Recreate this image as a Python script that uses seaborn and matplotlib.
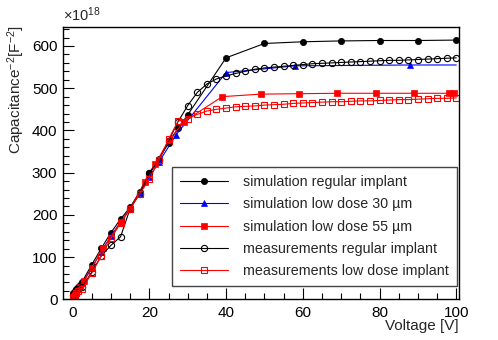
import numpy as np
import pandas as pd
import matplotlib
matplotlib.use("Agg")
import matplotlib.pyplot as plt
import seaborn as sns
from matplotlib.ticker import MultipleLocator

sns.set_style("ticks")
plt.rcParams['font.family'] = ['Liberation Sans', 'DejaVu Sans']
plt.rcParams['mathtext.fontset'] = 'custom'
plt.rcParams['mathtext.rm'] = 'Liberation Sans'
plt.rcParams['mathtext.it'] = 'Liberation Sans:italic'

# --- data ---
sim_reg_x = [0, 0.5, 1, 1.5, 2, 2.5, 5, 7.5, 10, 12.5, 15, 17.5, 20, 22.5, 25, 27.5, 30,
             40, 50, 60, 70, 80, 90, 100]
sim_reg_y = [15, 20, 25, 30, 35, 42, 82, 121, 158, 190, 218, 255, 300, 333, 370, 405, 437,
             572, 606, 610, 612, 613, 613, 614]

sim_30_x = [0, 0.5, 1, 2.5, 5, 7.5, 10, 12.5, 15, 17.5, 20, 22.5, 27, 40, 58, 88, 100]
sim_30_y = [10, 13, 18, 38, 75, 113, 150, 183, 215, 252, 290, 325, 390, 537, 553, 555, 555]

sim_55_x = [0, 0.5, 1, 2, 3, 5, 8, 12.5, 15, 19, 21.5, 25, 29, 39, 49, 59, 69, 79, 89, 98, 99.5]
sim_55_y = [5, 10, 18, 30, 43, 75, 121, 182, 215, 279, 320, 375, 421, 480, 486, 487, 488, 488,
            488, 488, 488]

meas_x = [0, 0.5, 1, 1.5, 2.5, 5, 7.5, 10, 12.5, 15, 17.5, 20, 22.5, 25, 27.5,
          30, 32.5, 35, 37.5, 40, 42.5, 45, 47.5, 50, 52.5, 55, 57.5, 60, 62.5, 65, 67.5,
          70, 72.5, 75, 77.5, 80, 82.5, 85, 87.5, 90, 92.5, 95, 97.5, 100]
meas_reg_y = [10, 15, 20, 25, 28, 65, 103, 128, 148, 215, 250, 298, 330, 375, 421,
              459, 490, 510, 522, 529, 535, 540, 545, 548, 550, 552, 554, 556, 558, 559, 560,
              561, 562, 563, 564, 565, 566, 566, 567, 568, 569, 570, 571, 572]
meas_low_y = [5, 10, 15, 20, 25, 62, 103, 145, 180, 215, 250, 284, 330, 379, 422,
              428, 438, 446, 450, 453, 456, 457, 458, 460, 461, 462, 464, 465, 466, 467, 468,
              468, 469, 470, 470, 471, 472, 473, 473, 474, 475, 476, 476, 477]

labels = ["simulation regular implant", "simulation low dose 30 \u00b5m",
          "simulation low dose 55 \u00b5m", "measurements regular implant",
          "measurements low dose implant"]

fig = plt.figure(figsize=(4.98, 3.40), dpi=100)
ax = fig.add_axes([0.1265, 0.1197, 0.7952, 0.8009])

lw = 0.8
sns.lineplot(x=sim_reg_x, y=sim_reg_y, ax=ax, color='black', linewidth=lw, marker='o',
             markersize=4.5, markerfacecolor='black', markeredgecolor='black',
             markeredgewidth=0.5, label=labels[0])
sns.lineplot(x=sim_30_x, y=sim_30_y, ax=ax, color='blue', linewidth=lw, marker='^',
             markersize=4.3, markerfacecolor='blue', markeredgecolor='blue',
             markeredgewidth=0.5, markevery=list(range(len(sim_30_x) - 1)), label=labels[1])
sns.lineplot(x=sim_55_x, y=sim_55_y, ax=ax, color='red', linewidth=lw, marker='s',
             markersize=4.3, markerfacecolor='red', markeredgecolor='red',
             markeredgewidth=0.5, label=labels[2])
sns.lineplot(x=meas_x, y=meas_reg_y, ax=ax, color='black', linewidth=lw, marker='o',
             markersize=4.5, markerfacecolor='none', markeredgecolor='black',
             markeredgewidth=0.8, label=labels[3])
sns.lineplot(x=meas_x, y=meas_low_y, ax=ax, color='red', linewidth=lw, marker='s',
             markersize=4.5, markerfacecolor='none', markeredgecolor='red',
             markeredgewidth=0.8, label=labels[4])

ax.set_xlim(-2.5, 100.7)
ax.set_ylim(0, 645)
ax.xaxis.set_major_locator(MultipleLocator(20))
ax.xaxis.set_minor_locator(MultipleLocator(5))
ax.yaxis.set_major_locator(MultipleLocator(100))
ax.yaxis.set_minor_locator(MultipleLocator(20))
ax.tick_params(which='both', direction='in', colors='black', labelsize=11, width=0.8)
ax.tick_params(which='major', length=8)
ax.tick_params(which='minor', length=4)
ax.tick_params(axis='x', pad=5)
ax.tick_params(axis='y', pad=4)
for s in ax.spines.values():
    s.set_visible(True)
    s.set_color('black')
    s.set_linewidth(1.0)

ax.set_xlabel("Voltage [V]", fontsize=11, loc='right')
ax.xaxis.set_label_coords(1.0, -0.072)
ax.set_ylabel("")
fig.text(16 / 498, 1 - 25 / 340, r"Capacitance$^{-2}$[F$^{-2}$]", rotation=90,
         fontsize=11, ha='center', va='top')
ax.text(0.0, 1.01, r"$\times$10$^{18}$", transform=ax.transAxes, fontsize=10.5,
        ha='left', va='bottom')

handles, labs = ax.get_legend_handles_labels()
leg = ax.legend(handles, labs, loc='lower left', bbox_to_anchor=(0.275, 0.048, 0.72, 0.434),
                mode='expand', fontsize=10.3, frameon=True, fancybox=False, framealpha=1,
                edgecolor='#444444', handlelength=3.4, handletextpad=1.0,
                labelspacing=0.58, borderpad=0.55, borderaxespad=0)
leg.get_frame().set_linewidth(1.0)

fig.savefig("out.png", dpi=100)
